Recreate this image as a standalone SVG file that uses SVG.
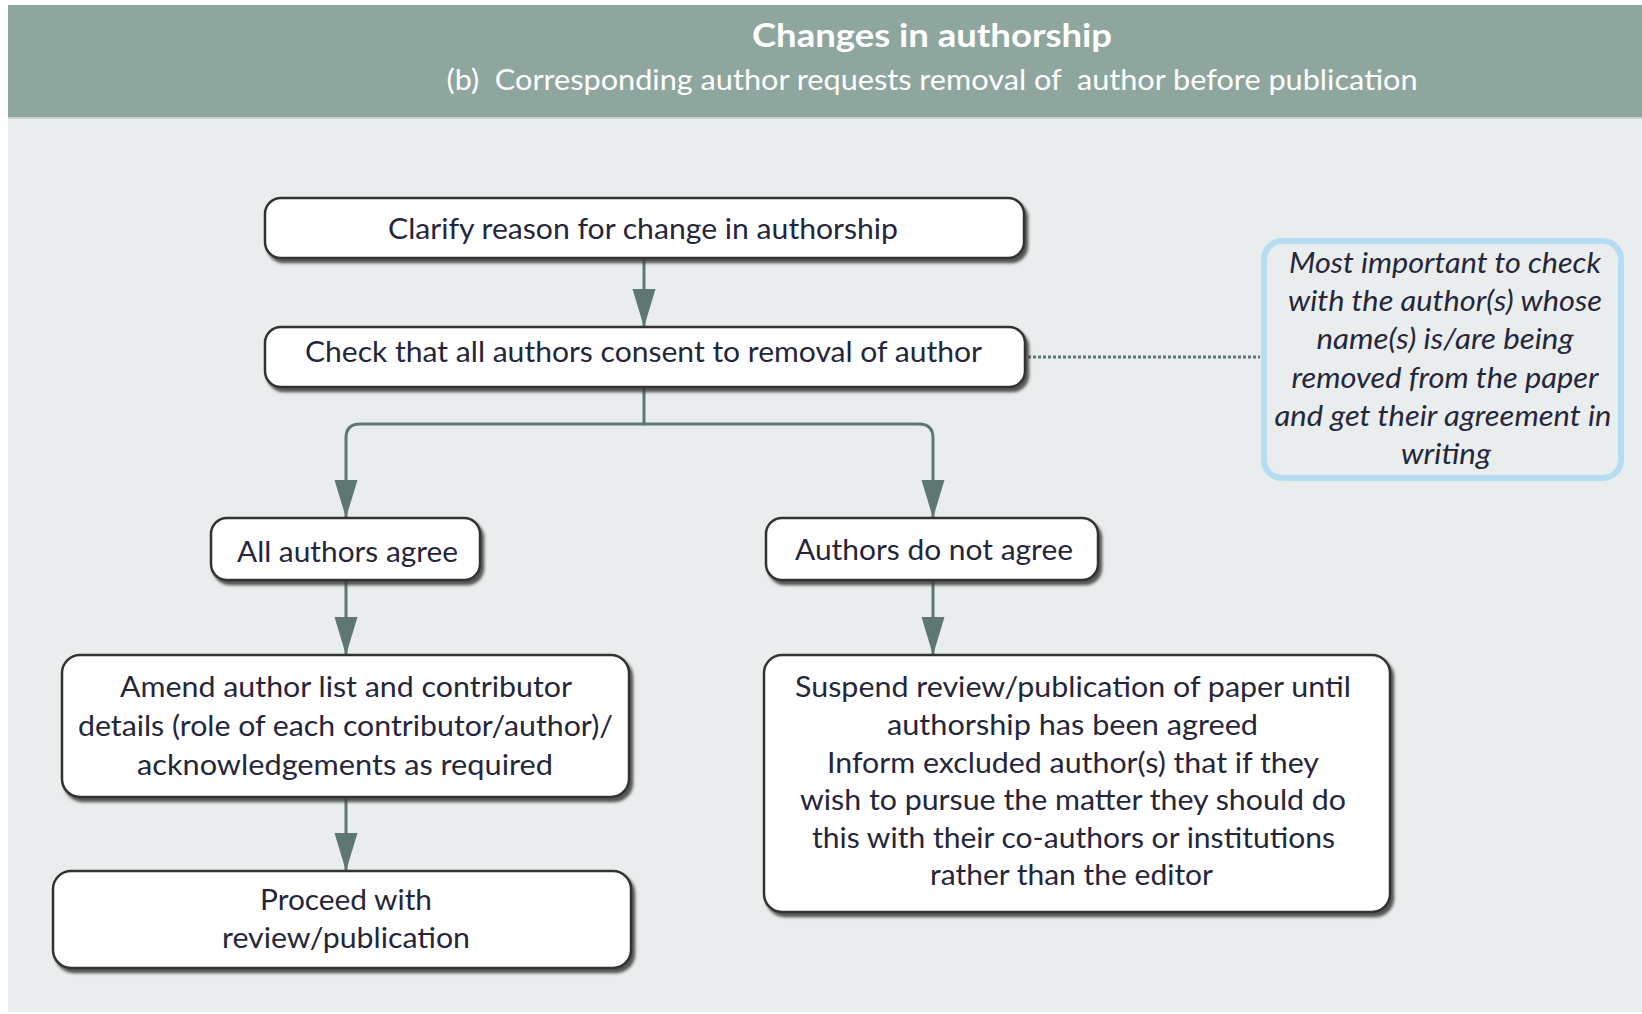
<svg xmlns="http://www.w3.org/2000/svg" width="1642" height="1014" viewBox="0 0 1642 1014">
<defs>
<style>
.node rect{fill:#ffffff;stroke:#333333;stroke-width:2.5;filter:url(#sh)}
.t{font-family:Lato,"Liberation Sans",Arial,sans-serif;font-size:29px;fill:#26263a;text-anchor:middle}
.ti{font-family:Lato,"Liberation Sans",Arial,sans-serif;font-size:29px;font-style:italic;fill:#26263a;text-anchor:middle}
.conn path{fill:none;stroke:#5e7771;stroke-width:3}
.hd{font-family:Lato,"Liberation Sans",Arial,sans-serif;fill:#ffffff;text-anchor:middle}
</style>
<filter id="sh" x="-5%" y="-10%" width="115%" height="130%">
<feDropShadow dx="3" dy="4" stdDeviation="1.6" flood-color="#3a3a3a" flood-opacity="0.85"/>
</filter>
<marker id="ah" viewBox="0 0 38 24" refX="38" refY="12" markerWidth="38" markerHeight="24" markerUnits="userSpaceOnUse" orient="auto">
<path d="M0,0.5 L38,12 L0,23.5 Z" fill="#5e7771"/>
</marker>
</defs>
<rect x="0" y="0" width="1642" height="1014" fill="#ffffff"/>
<rect x="8" y="117" width="1634" height="895" fill="#e9edee"/>
<rect x="8" y="5" width="1634" height="112" fill="#8fa69f"/>
<line x1="8" y1="118" x2="1642" y2="118" stroke="#c9d4d1" stroke-width="2"/>
<g id="header">
<text class="hd" x="932" y="47" font-size="33" font-weight="bold" textLength="360" lengthAdjust="spacingAndGlyphs">Changes in authorship</text>
<text class="hd" x="932" y="90" font-size="28" textLength="971" lengthAdjust="spacingAndGlyphs" xml:space="preserve">(b)  Corresponding author requests removal of  author before publication</text>
</g>
<g id="connectors" class="conn">
<path d="M644,258 V327" marker-end="url(#ah)"/>
<path d="M644,387 V424 H360 Q346,424 346,438 V518" marker-end="url(#ah)"/>
<path d="M644,424 H919 Q933,424 933,438 V518" marker-end="url(#ah)"/>
<path d="M346,580 V655" marker-end="url(#ah)"/>
<path d="M346,797 V871" marker-end="url(#ah)"/>
<path d="M933,580 V655" marker-end="url(#ah)"/>
<path d="M1028,357 H1260" stroke-width="2.5" stroke-dasharray="3,2"/>
</g>
<g id="n1" class="node">
<rect x="265" y="198" width="759" height="60" rx="16"/>
<text class="t" x="643" y="239" textLength="510" lengthAdjust="spacingAndGlyphs">Clarify reason for change in authorship</text>
</g>
<g id="n2" class="node">
<rect x="265" y="327" width="760" height="60" rx="16"/>
<text class="t" x="643.5" y="362" textLength="677" lengthAdjust="spacingAndGlyphs">Check that all authors consent to removal of author</text>
</g>
<g id="note">
<rect x="1264" y="241" width="357" height="237" rx="18" fill="#e9edee" stroke="#b5dcf0" stroke-width="6"/>
<text class="ti" x="1445" y="273" textLength="312" lengthAdjust="spacingAndGlyphs">Most important to check</text>
<text class="ti" x="1445" y="311" textLength="314" lengthAdjust="spacingAndGlyphs">with the author(s) whose</text>
<text class="ti" x="1445" y="349" textLength="257" lengthAdjust="spacingAndGlyphs">name(s) is/are being</text>
<text class="ti" x="1445" y="388" textLength="307" lengthAdjust="spacingAndGlyphs">removed from the paper</text>
<text class="ti" x="1443" y="426" textLength="337" lengthAdjust="spacingAndGlyphs">and get their agreement in</text>
<text class="ti" x="1446" y="464" textLength="90" lengthAdjust="spacingAndGlyphs">writing</text>
</g>
<g id="n3" class="node">
<rect x="211" y="518" width="269" height="62" rx="16"/>
<text class="t" x="347.5" y="562" textLength="221" lengthAdjust="spacingAndGlyphs">All authors agree</text>
</g>
<g id="n4" class="node">
<rect x="766" y="518" width="332" height="62" rx="16"/>
<text class="t" x="934" y="560" textLength="278" lengthAdjust="spacingAndGlyphs">Authors do not agree</text>
</g>
<g id="n5" class="node">
<rect x="62" y="655" width="567" height="142" rx="18"/>
<text class="t" x="346" y="697" textLength="452" lengthAdjust="spacingAndGlyphs">Amend author list and contributor</text>
<text class="t" x="345.5" y="736" textLength="535" lengthAdjust="spacingAndGlyphs">details (role of each contributor/author)/</text>
<text class="t" x="345" y="775" textLength="416" lengthAdjust="spacingAndGlyphs">acknowledgements as required</text>
</g>
<g id="n6" class="node">
<rect x="53" y="871" width="578" height="97" rx="18"/>
<text class="t" x="346" y="910" textLength="172" lengthAdjust="spacingAndGlyphs">Proceed with</text>
<text class="t" x="346" y="948" textLength="248" lengthAdjust="spacingAndGlyphs">review/publication</text>
</g>
<g id="n7" class="node">
<rect x="764" y="655" width="626" height="257" rx="18"/>
<text class="t" x="1073" y="697" textLength="556" lengthAdjust="spacingAndGlyphs">Suspend review/publication of paper until</text>
<text class="t" x="1072.5" y="735" textLength="371" lengthAdjust="spacingAndGlyphs">authorship has been agreed</text>
<text class="t" x="1073" y="773" textLength="492" lengthAdjust="spacingAndGlyphs">Inform excluded author(s) that if they</text>
<text class="t" x="1073" y="810" textLength="546" lengthAdjust="spacingAndGlyphs">wish to pursue the matter they should do</text>
<text class="t" x="1073.5" y="848" textLength="523" lengthAdjust="spacingAndGlyphs">this with their co-authors or institutions</text>
<text class="t" x="1071.5" y="885" textLength="283" lengthAdjust="spacingAndGlyphs">rather than the editor</text>
</g>
</svg>
